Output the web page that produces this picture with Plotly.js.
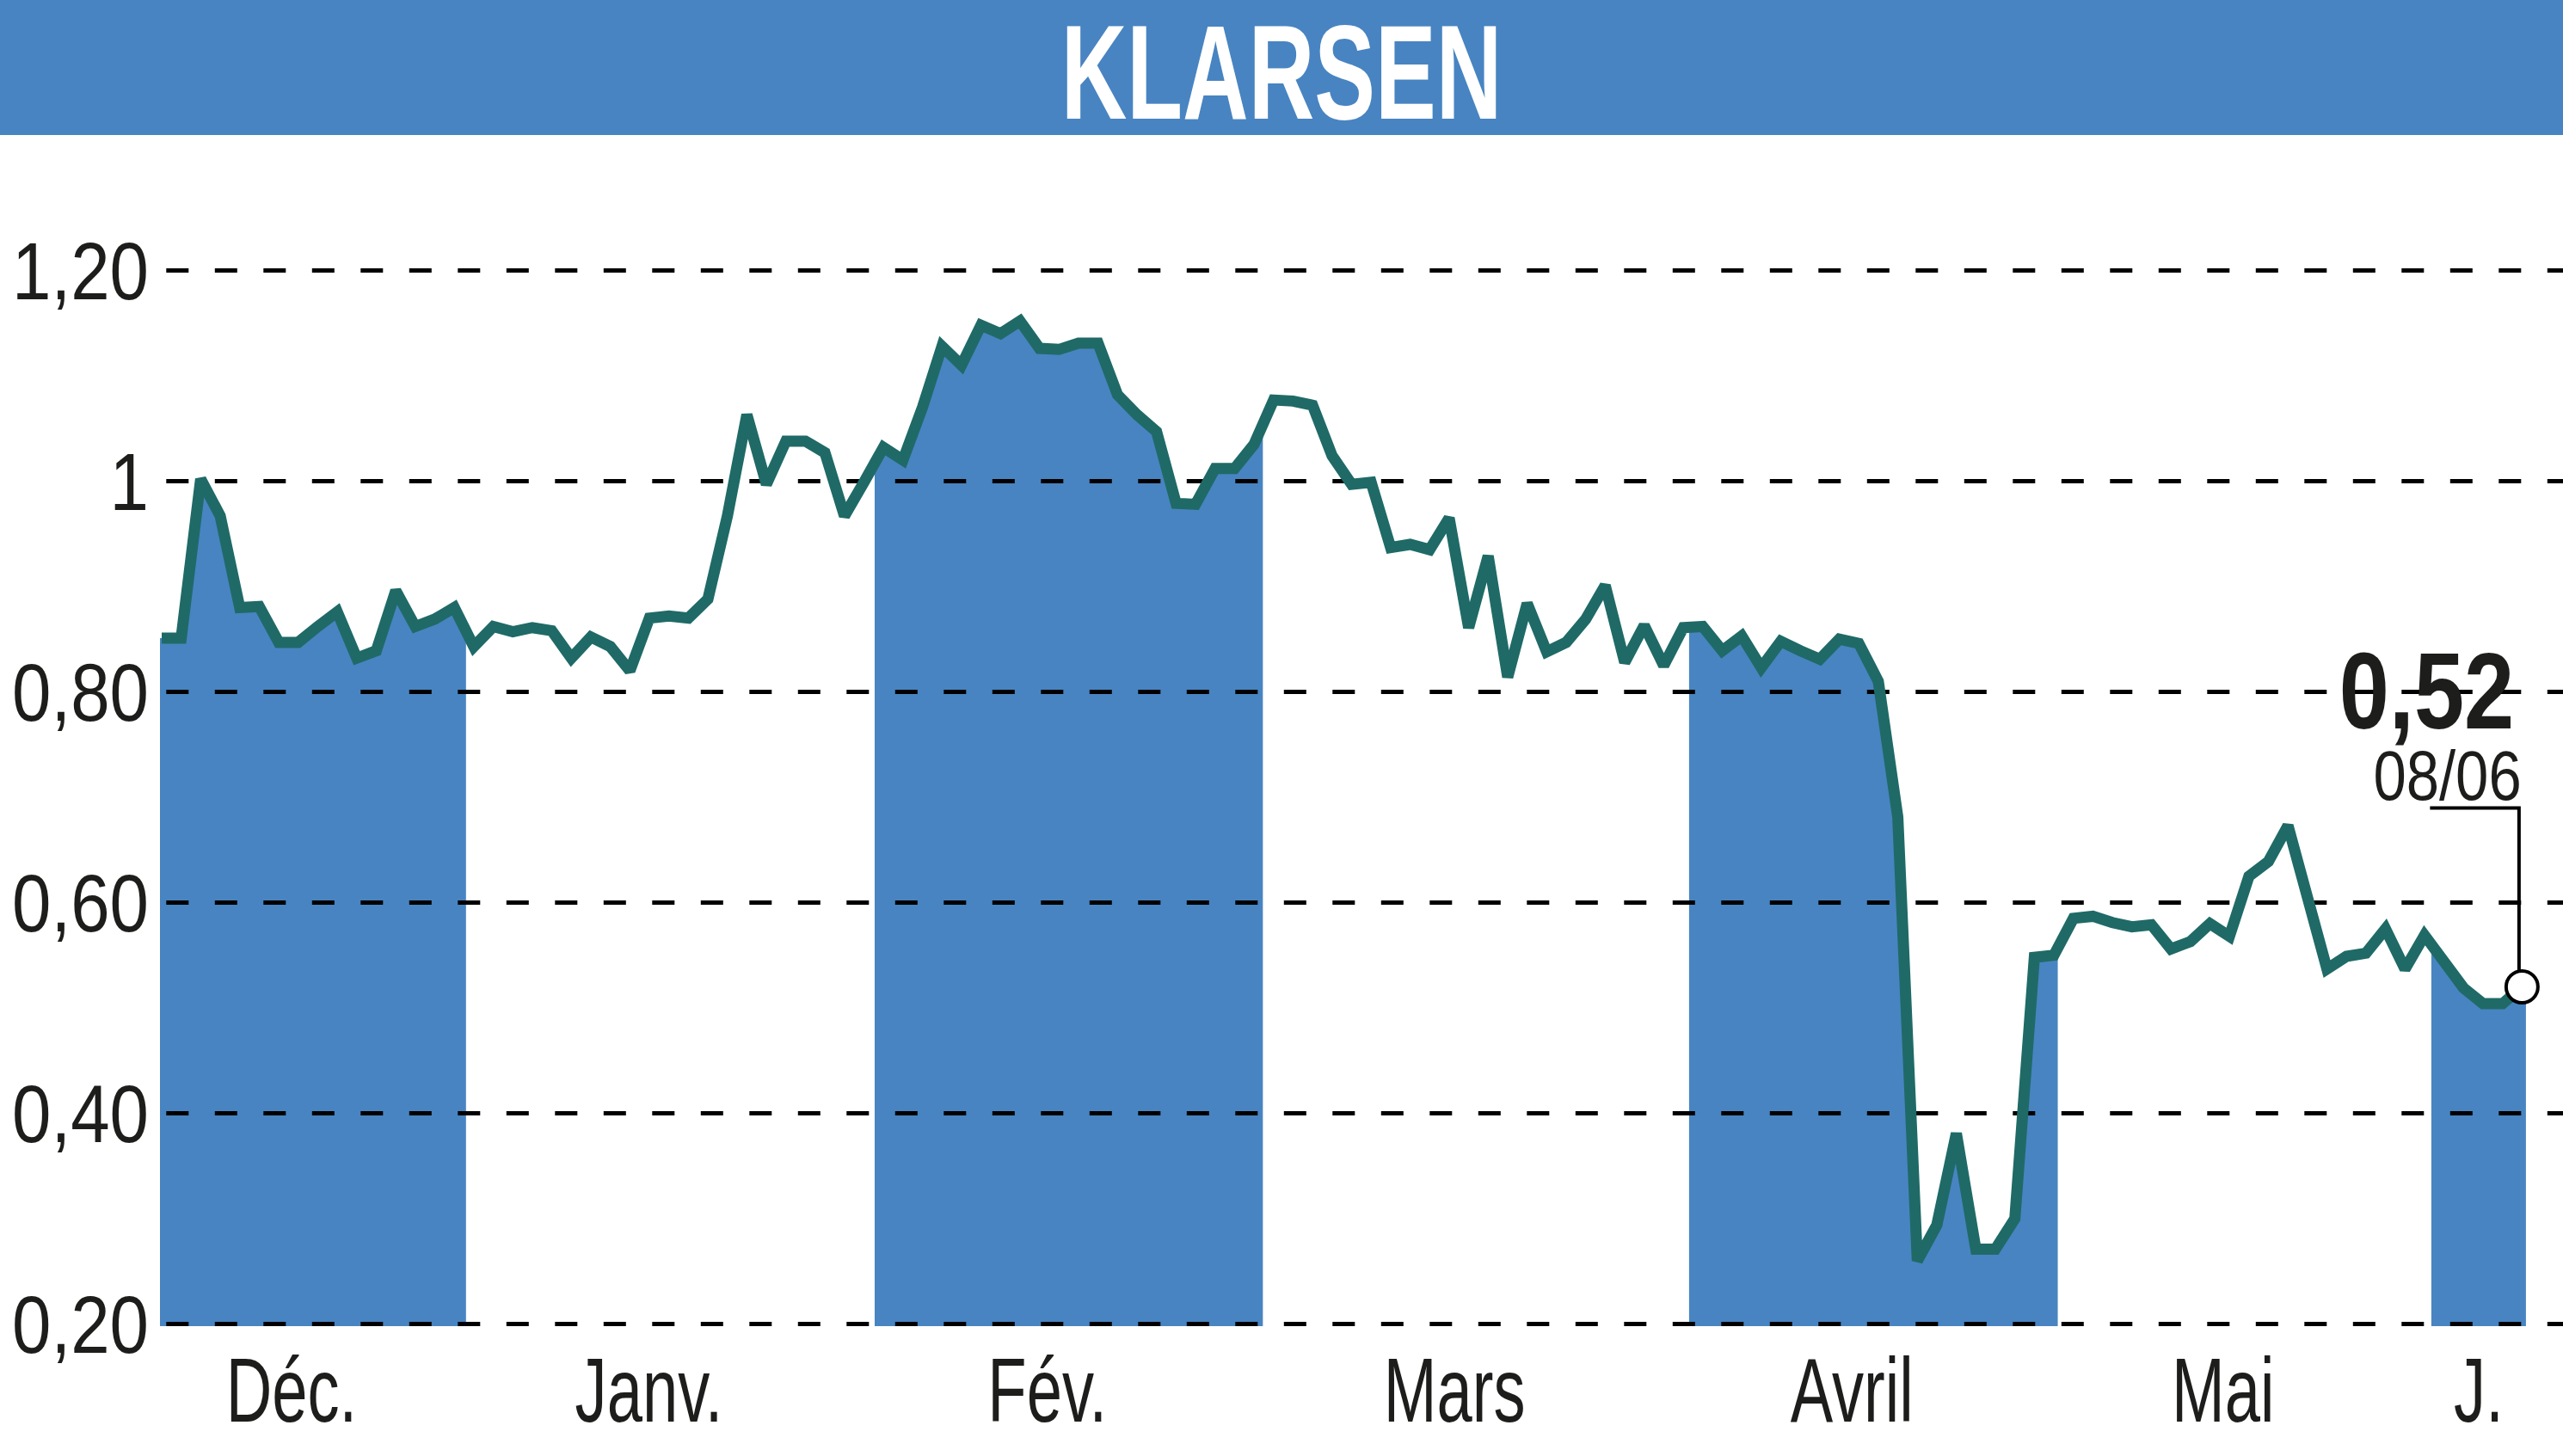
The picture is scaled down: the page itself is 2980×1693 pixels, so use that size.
<!DOCTYPE html>
<html>
<head>
<meta charset="utf-8">
<script src="https://cdn.plot.ly/plotly-3.0.1.min.js"></script>
<style>
  html, body { margin: 0; padding: 0; background: #ffffff; }
  #chart { width: 2980px; height: 1693px; }
</style>
</head>
<body>
<div id="chart"></div>
<script>
// ---------------- data ----------------
const chartTitle = 'KLARSEN';

// daily closing prices (one value per trading day, Dec -> 08/06)
const prices = [
  0.851, 0.851, 1.002, 0.967, 0.880, 0.881, 0.847, 0.847, 0.862, 0.876,
  0.832, 0.839, 0.896, 0.862, 0.869, 0.880, 0.843, 0.862, 0.857, 0.861,
  0.858, 0.832, 0.852, 0.843, 0.820, 0.870, 0.872, 0.870, 0.888, 0.967,
  1.063, 0.997, 1.038, 1.038, 1.027, 0.967, 0.999, 1.032, 1.020, 1.070,
  1.128, 1.110, 1.148, 1.140, 1.152, 1.126, 1.125, 1.131, 1.131, 1.082,
  1.063, 1.047, 0.979, 0.978, 1.012, 1.012, 1.035, 1.077, 1.076, 1.072,
  1.024, 0.997, 0.999, 0.937, 0.940, 0.935, 0.965, 0.861, 0.929, 0.814,
  0.884, 0.838, 0.847, 0.869, 0.901, 0.828, 0.863, 0.825, 0.861, 0.862,
  0.839, 0.853, 0.823, 0.848, 0.839, 0.831, 0.850, 0.846, 0.810, 0.681,
  0.260, 0.294, 0.381, 0.271, 0.271, 0.300, 0.548, 0.550, 0.585, 0.587,
  0.581, 0.577, 0.579, 0.556, 0.563, 0.580, 0.568, 0.625, 0.639, 0.673,
  0.605, 0.537, 0.549, 0.552, 0.575, 0.537, 0.569, 0.545, 0.519, 0.504,
  0.504, 0.520
];

// month labels and month boundaries (in trading-day index units)
const monthLabels = ['Déc.', 'Janv.', 'Fév.', 'Mars', 'Avril', 'Mai', 'J.'];
const monthEdges  = [-0.09, 15.6, 36.55, 56.45, 78.3, 97.2, 116.35, 121.2];
const shadedMonths = [0, 2, 4, 6];

// y axis ticks
const yTickVals = [0.2, 0.4, 0.6, 0.8, 1.0, 1.2];
const yTickText = ['0,20', '0,40', '0,60', '0,80', '1', '1,20'];

// last quote annotation
const lastLabel = '0,52';
const lastDate  = '08/06';

// ---------------- style ----------------
const FONT = "'Liberation Sans', Arial, sans-serif";
const BLUE = '#4884c1';
const LINE = '#1f6a67';
const TEXT = '#1d1d1b';

const xIdx = prices.map((_, i) => i);
const lastI = prices.length - 1;
const lastV = prices[lastI];

function valueAt(x) {
  if (x <= 0) return prices[0];
  if (x >= lastI) return prices[lastI];
  const i = Math.floor(x), f = x - i;
  return prices[i] + (prices[i + 1] - prices[i]) * f;
}

const X_RANGE = [-0.088, 123.1];
const Y_RANGE = [0.198, 1.3285];

const traces = [];

// shaded month areas under the curve
shadedMonths.forEach(m => {
  const a = monthEdges[m], b = monthEdges[m + 1];
  const xs = [a], ys = [valueAt(a)];
  xIdx.forEach(i => { if (i > a && i < b) { xs.push(i); ys.push(prices[i]); } });
  xs.push(b); ys.push(valueAt(b));
  traces.push({
    x: xs, y: ys, type: 'scatter', mode: 'lines',
    line: { width: 0, color: BLUE }, fill: 'tozeroy', fillcolor: BLUE,
    hoverinfo: 'skip', showlegend: false
  });
});

// dashed horizontal gridlines (drawn above the shading, below the price line)
const gx = [], gy = [];
yTickVals.forEach(v => { gx.push(0.234, X_RANGE[1], null); gy.push(v, v, null); });
traces.push({
  x: gx, y: gy, type: 'scatter', mode: 'lines',
  line: { color: '#000000', width: 5, dash: '26px,30.5px' },
  hoverinfo: 'skip', showlegend: false
});

// price line
traces.push({
  x: xIdx, y: prices, type: 'scatter', mode: 'lines',
  line: { color: LINE, width: 13, shape: 'linear' },
  showlegend: false
});

// last point marker
traces.push({
  x: [lastI], y: [lastV], type: 'scatter', mode: 'markers',
  marker: { symbol: 'circle', size: 37, color: '#ffffff', line: { color: '#000000', width: 4 } },
  cliponaxis: false, showlegend: false
});

// month labels: centred in each month, full months nudged slightly left as in the original
const labelPos = monthLabels.map((_, i) => {
  const c = (monthEdges[i] + monthEdges[i + 1]) / 2;
  return i < monthLabels.length - 1 ? c - 1.1 : c;
});

const layout = {
  width: 2980, height: 1693,
  margin: { l: 186, r: 0, t: 157, b: 151.2, pad: 0 },
  paper_bgcolor: '#ffffff', plot_bgcolor: '#ffffff',
  showlegend: false,
  title: {
    text: '<b>' + chartTitle + '</b>',
    font: { family: FONT, size: 156, color: '#ffffff' },
    x: 0.5, xref: 'container', xanchor: 'center',
    y: 0.951, yref: 'container', yanchor: 'middle'
  },
  xaxis: {
    range: X_RANGE, showgrid: false, zeroline: false, showline: false,
    tickmode: 'array', tickvals: labelPos, ticktext: monthLabels,
    ticks: '', ticklabelstandoff: 4,
    tickfont: { family: FONT, size: 106, color: TEXT }, fixedrange: true
  },
  yaxis: {
    range: Y_RANGE, showgrid: false, zeroline: false, showline: false,
    tickmode: 'array', tickvals: yTickVals, ticktext: yTickText,
    ticks: '', ticklabelstandoff: 12,
    tickfont: { family: FONT, size: 95, color: TEXT }, fixedrange: true
  },
  shapes: [
    { type: 'rect', xref: 'paper', yref: 'paper', x0: -0.1, x1: 1.0, y0: 1.0, y1: 1.2,
      fillcolor: BLUE, line: { width: 0 }, layer: 'below' },
    { type: 'path', xref: 'x', yref: 'y', xsizemode: 'pixel', ysizemode: 'pixel',
      xanchor: lastI, yanchor: lastV,
      path: 'M -107 208 L -3.5 208 L -3.5 18',
      line: { color: '#000000', width: 4 }, layer: 'above' }
  ],
  annotations: [
    { x: lastI, y: lastV, xref: 'x', yref: 'y', text: '<b>' + lastLabel + '</b>',
      showarrow: false, xanchor: 'right', yanchor: 'middle', xshift: -7, yshift: 344,
      font: { family: FONT, size: 126, color: TEXT } },
    { x: lastI, y: lastV, xref: 'x', yref: 'y', text: lastDate,
      showarrow: false, xanchor: 'right', yanchor: 'middle', xshift: 2, yshift: 246,
      font: { family: FONT, size: 81, color: TEXT } }
  ]
};

// The original uses a condensed typeface; none is installed, so the text
// elements are narrowed horizontally (they stay real SVG text).
function condense(el, s, pivot) {
  const bb = el.getBBox();
  let px = bb.x + bb.width / 2;
  if (pivot === 'right') px = bb.x + bb.width;
  if (pivot === 'left') px = bb.x;
  const prev = el.getAttribute('transform') || '';
  el.setAttribute('transform', (prev + ' translate(' + px + ',0) scale(' + s + ',1) translate(' + (-px) + ',0)').trim());
}

Plotly.newPlot('chart', traces, layout, { staticPlot: true, displayModeBar: false }).then(gd => {
  gd.querySelectorAll('.xtick text').forEach(t => condense(t, 0.70, 'center'));
  gd.querySelectorAll('.ytick text').forEach(t => condense(t, 0.86, 'right'));
  gd.querySelectorAll('.gtitle').forEach(t => condense(t, 0.68, 'center'));
  const ann = gd.querySelectorAll('.annotation-text');
  if (ann[0]) condense(ann[0], 0.83, 'right');
  if (ann[1]) condense(ann[1], 0.85, 'right');
});
</script>
</body>
</html>
